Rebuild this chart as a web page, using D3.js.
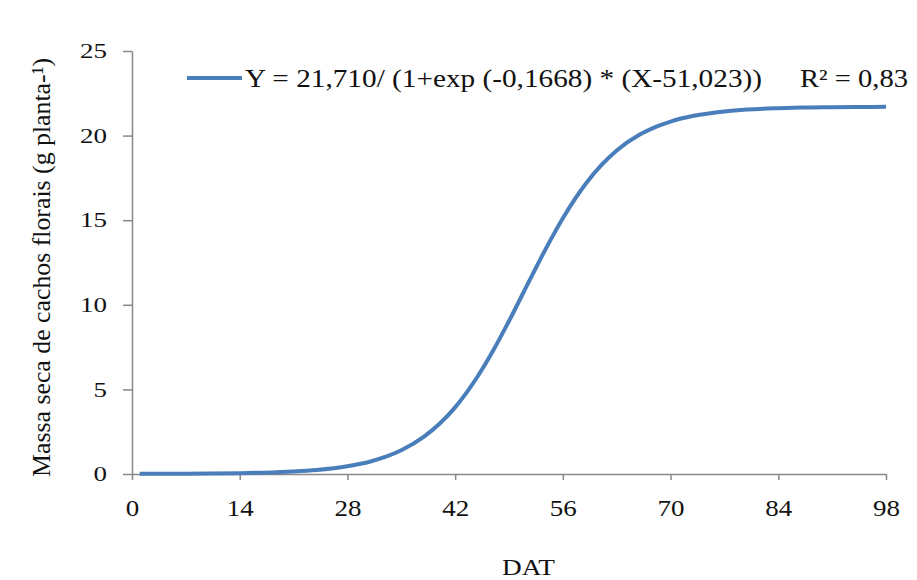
<!DOCTYPE html>
<html>
<head>
<meta charset="utf-8">
<script src="https://cdn.jsdelivr.net/npm/d3@7"></script>
<style>
  html, body { margin: 0; padding: 0; background: #fff; }
  svg { display: block; }
  svg text { font-family: "Liberation Serif", "Times New Roman", Times, serif; }
</style>
</head>
<body>
<svg id="chart" width="917" height="580"></svg>
<script>
// Days after transplanting (DAT) and fitted dry mass of flower clusters (g plant-1)
const days = [1, 7, 14, 17, 21, 24, 28, 31, 33, 35, 38, 40, 42, 45, 47, 49, 52, 54, 56, 59, 61, 63, 66, 68, 70, 73, 77, 80, 84, 87, 91, 94, 98];
const mass = [0.01, 0.02, 0.05, 0.08, 0.15, 0.24, 0.46, 0.74, 1.02, 1.40, 2.22, 2.98, 3.94, 5.82, 7.34, 9.04, 11.74, 13.50, 15.12, 17.17, 18.25, 19.12, 20.06, 20.50, 20.83, 21.17, 21.43, 21.54, 21.62, 21.66, 21.68, 21.69, 21.70];
const xTicks = [0, 14, 28, 42, 56, 70, 84, 98];
const yTicks = [0, 5, 10, 15, 20, 25];
const equationText = "Y = 21,710/ (1+exp (-0,1668) * (X-51,023))";
const r2Text = "R\u00B2 = 0,83";
const xTitle = "DAT";
const yTitle = "Massa seca de cachos  florais (g planta-\u00B9)";

const svg = d3.select("#chart");
const axisColor = "#888888";
const lineColor = "#4a7ebb";
const textColor = "#111111";

const x = d3.scaleLinear().domain([0, 98]).range([132, 886]);
const y = d3.scaleLinear().domain([0, 25]).range([474, 51]);

// Y axis
const gy = svg.append("g")
  .attr("transform", `translate(${x(0)},0)`)
  .call(d3.axisLeft(y).tickValues(yTicks).tickSize(9).tickSizeOuter(0).tickPadding(16));
gy.select(".domain").attr("stroke", axisColor).attr("stroke-width", 1.5);
gy.selectAll(".tick line").attr("stroke", axisColor).attr("stroke-width", 1.5);
gy.selectAll(".tick text")
  .attr("fill", textColor)
  .style("font-size", "20px")
  .attr("dy", "0.33em")
  .attr("textLength", d => String(d).length * 13.5)
  .attr("lengthAdjust", "spacingAndGlyphs");

// X axis
const gx = svg.append("g")
  .attr("transform", `translate(0,${y(0)})`)
  .call(d3.axisBottom(x).tickValues(xTicks).tickSize(6).tickSizeOuter(0));
gx.select(".domain").attr("stroke", axisColor).attr("stroke-width", 1.5);
gx.selectAll(".tick line").attr("stroke", axisColor).attr("stroke-width", 1.5);
gx.selectAll(".tick text")
  .attr("fill", textColor)
  .style("font-size", "23px")
  .attr("y", 42)
  .attr("dy", 0)
  .attr("textLength", d => String(d).length * 13.5)
  .attr("lengthAdjust", "spacingAndGlyphs");

// Fitted logistic curve
const line = d3.line()
  .x((d, i) => x(days[i]))
  .y(d => y(d))
  .curve(d3.curveMonotoneX);
svg.append("path")
  .datum(mass)
  .attr("d", line)
  .attr("fill", "none")
  .attr("stroke", lineColor)
  .attr("stroke-width", 4)
  .attr("stroke-linejoin", "round");

// Legend
svg.append("line")
  .attr("x1", 187).attr("x2", 242)
  .attr("y1", 78).attr("y2", 78)
  .attr("stroke", lineColor).attr("stroke-width", 4);
svg.append("text")
  .attr("x", 245).attr("y", 87)
  .style("font-size", "25px")
  .attr("fill", textColor)
  .attr("textLength", 517)
  .attr("lengthAdjust", "spacingAndGlyphs")
  .text(equationText);
svg.append("text")
  .attr("x", 800).attr("y", 87)
  .style("font-size", "25px")
  .attr("fill", textColor)
  .attr("textLength", 108)
  .attr("lengthAdjust", "spacingAndGlyphs")
  .text(r2Text);

// Axis titles
svg.append("text")
  .attr("x", 502).attr("y", 575)
  .style("font-size", "23px")
  .attr("fill", textColor)
  .attr("textLength", 53)
  .attr("lengthAdjust", "spacingAndGlyphs")
  .text(xTitle);
svg.append("text")
  .attr("transform", "translate(50,267.5) rotate(-90)")
  .attr("text-anchor", "middle")
  .style("font-size", "26px")
  .attr("fill", textColor)
  .attr("textLength", 419)
  .attr("lengthAdjust", "spacingAndGlyphs")
  .text(yTitle);
</script>
</body>
</html>
